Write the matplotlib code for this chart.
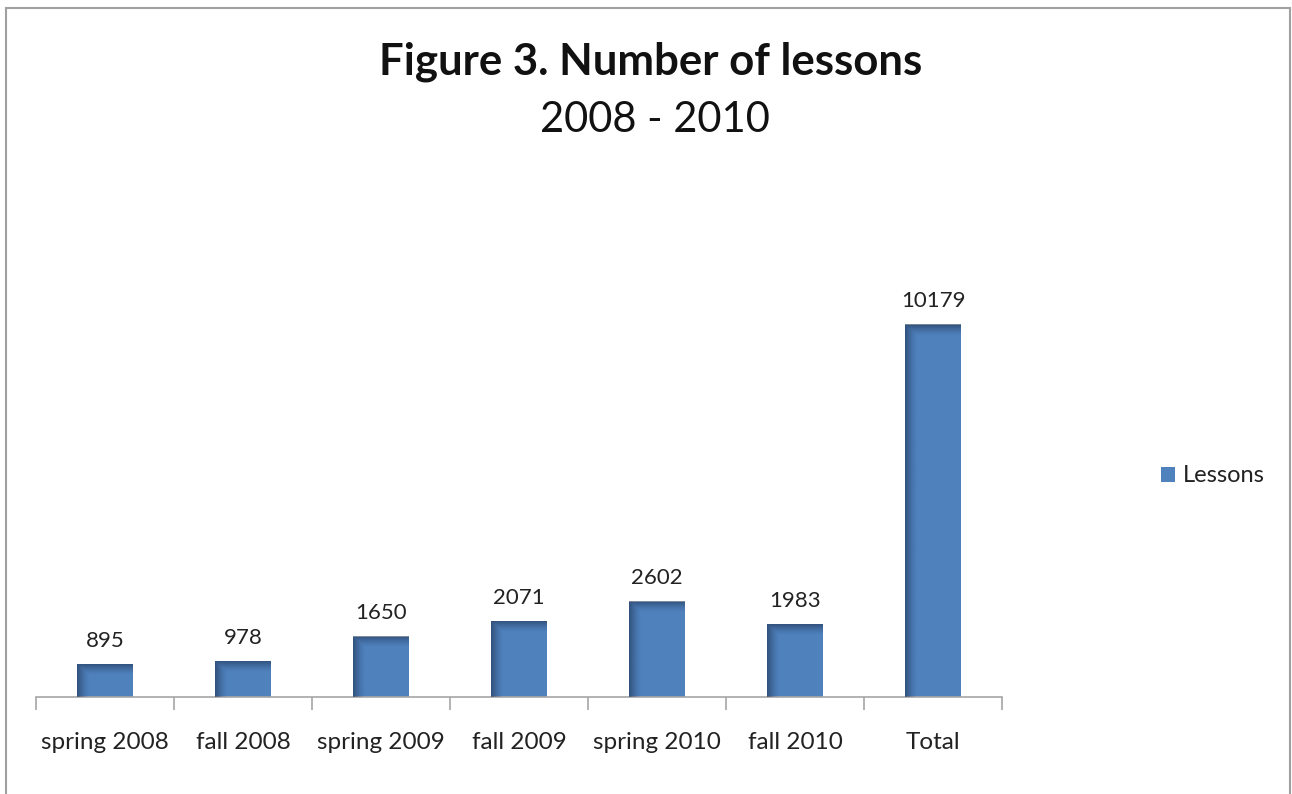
import matplotlib.pyplot as plt
import matplotlib as mpl
from matplotlib.patches import Rectangle
import numpy as np

mpl.rcParams["font.family"] = ["Lato", "DejaVu Sans"]

CATEGORIES = ["spring 2008", "fall 2008", "spring 2009", "fall 2009",
              "spring 2010", "fall 2010", "Total"]
LESSONS = [895, 978, 1650, 2071, 2602, 1983, 10179]

BAR_COLOR = "#4F81BD"
W, H = 1292, 794


def shaded_bar(ax, bar):
    # gradient: dark on the left edge and on the top edge, like Excel's inner shadow
    x0, y0 = bar.get_x(), bar.get_y()
    w, h = bar.get_width(), bar.get_height()
    nx, ny = 60, 200
    gx = np.linspace(0, 1, nx)
    left = np.clip(1 - gx / 0.22, 0, 1) ** 1.4
    px_h = ax.transData.transform((0, h))[1] - ax.transData.transform((0, 0))[1]
    gy = np.linspace(0, 1, ny)  # 0 bottom, 1 top
    top_frac = min(11.0 / max(px_h, 1), 0.5)
    top = np.clip((gy - (1 - top_frac)) / top_frac, 0, 1) ** 1.4
    shade = np.maximum(left[None, :], top[:, None]) * 0.6
    img = np.zeros((ny, nx, 4))
    img[..., 0] = 0.12
    img[..., 1] = 0.2
    img[..., 2] = 0.33
    img[..., 3] = shade
    ax.imshow(img, extent=(x0, x0 + w, y0, y0 + h), origin="lower",
              aspect="auto", zorder=3, interpolation="bilinear")


def main():
    fig = plt.figure(figsize=(W / 100, H / 100), dpi=100)
    fig.patch.set_facecolor("white")

    # outer chart border (gray, open at bottom)
    fig.add_artist(Rectangle((6 / W, -0.05), (1290 - 6) / W, 1.05 - 8 / H,
                             transform=fig.transFigure, fill=False,
                             edgecolor="#A0A0A0", linewidth=1.5))

    ax = fig.add_axes([36 / W, (H - 697) / H, (1002 - 36) / W, 439 / H])
    x = np.arange(len(CATEGORIES))
    bars = ax.bar(x, LESSONS, width=0.405, color=BAR_COLOR, zorder=2,
                  label="Lessons")
    ax.set_xlim(-0.5, len(CATEGORIES) - 0.5)
    ax.set_ylim(0, 12000)

    for b, val in zip(bars, LESSONS):
        shaded_bar(ax, b)
        ax.text(b.get_x() + b.get_width() / 2, val + 370, f"{val}",
                ha="center", va="bottom", fontsize=16, color="#222222")

    ax.set_yticks([])
    for s in ["top", "right", "left"]:
        ax.spines[s].set_visible(False)
    ax.spines["bottom"].set_color("#A6A6A6")
    ax.spines["bottom"].set_linewidth(1.2)

    ax.set_xticks(x)
    ax.set_xticklabels(CATEGORIES, fontsize=17.5, color="#222222")
    ax.tick_params(axis="x", which="major", length=0, pad=25)
    ax.set_xticks(np.arange(-0.5, len(CATEGORIES)), minor=True)
    ax.tick_params(axis="x", which="minor", length=9, color="#A6A6A6",
                   width=1.2, direction="out")

    fig.text(651 / W, 1 - 62 / H, "Figure 3. Number of lessons",
             ha="center", va="center", fontsize=31.5, fontweight="bold",
             color="#111111")
    fig.text(655 / W, 1 - 120 / H, "2008 - 2010",
             ha="center", va="center", fontsize=30, color="#111111")

    leg = fig.legend(handles=[bars], labels=["Lessons"], loc="center left",
                     bbox_to_anchor=(1140 / W, 1 - 476 / H), frameon=False,
                     fontsize=17, handlelength=0.6, handleheight=0.6,
                     handletextpad=0.3)
    for t in leg.get_texts():
        t.set_color("#222222")

    fig.savefig("out.png", dpi=100)


if __name__ == "__main__":
    main()
